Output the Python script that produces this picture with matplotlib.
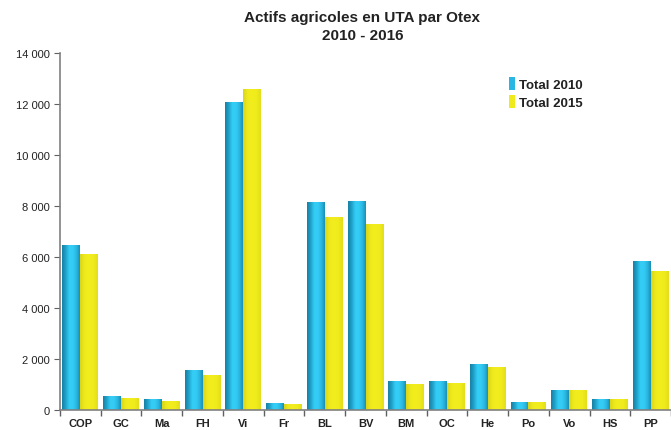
import matplotlib.pyplot as plt
import numpy as np
from matplotlib.colors import LinearSegmentedColormap
from matplotlib.patches import Patch
from matplotlib.ticker import FuncFormatter

plt.rcParams['font.family'] = ['Liberation Sans', 'DejaVu Sans']

otex = ['COP', 'GC', 'Ma', 'FH', 'Vi', 'Fr', 'BL', 'BV', 'BM', 'OC', 'He',
        'Po', 'Vo', 'HS', 'PP']
total_2010 = [6440, 510, 400, 1530, 12050, 240, 8130, 8170, 1100, 1100, 1770,
              310, 750, 400, 5830]
total_2015 = [6080, 470, 350, 1370, 12580, 230, 7540, 7260, 990, 1020, 1650,
              310, 750, 400, 5420]

blue_cmap = LinearSegmentedColormap.from_list(
    'blue', ['#1780a3', '#1f9fc8', '#33ccf5', '#35cdf5', '#2ab8e2', '#1a8fb5'])
yellow_cmap = LinearSegmentedColormap.from_list(
    'yellow', ['#d9d41a', '#eee91c', '#f2ee1e', '#efeb1c', '#e3de1a'])

fig = plt.figure(figsize=(6.71, 4.31), dpi=100)
ax = fig.add_axes([60 / 671, 20 / 431, 611 / 671, 357 / 431])

x = np.arange(len(otex))
w = 0.44
grad = np.linspace(0, 1, 128).reshape(1, -1)


def gradient_bars(xs, values, cmap):
    bars = ax.bar(xs, values, width=w, color='none', linewidth=0)
    for b in bars:
        x0 = b.get_x()
        ax.imshow(grad, extent=(x0, x0 + b.get_width(), 0, b.get_height()),
                  aspect='auto', cmap=cmap, zorder=2, interpolation='bilinear')


gradient_bars(x - w / 2, total_2010, blue_cmap)
gradient_bars(x + w / 2, total_2015, yellow_cmap)

ax.set_xlim(-0.5, len(otex) - 0.5)
ax.set_ylim(0, 14000)
ax.set_yticks(np.arange(0, 14001, 2000))
ax.yaxis.set_major_formatter(FuncFormatter(lambda v, p: f'{int(v):,}'.replace(',', ' ')))

ax.set_xticks(np.arange(-0.5, len(otex), 1.0))
ax.set_xticklabels([])
ax.set_xticks(x, minor=True)
ax.set_xticklabels(otex, minor=True, fontweight='bold', fontsize=8, color='#222222')
ax.tick_params(axis='x', which='minor', length=0, pad=6)
ax.tick_params(axis='x', which='major', length=4, color='#606060', width=1)
ax.tick_params(axis='y', length=4, color='#606060', labelsize=8, labelcolor='#222222')

for s in ['top', 'right']:
    ax.spines[s].set_visible(False)
for s in ['left', 'bottom']:
    ax.spines[s].set_color('#808080')
    ax.spines[s].set_linewidth(1.2)

fig.text(0.54, 0.975, 'Actifs agricoles en UTA par Otex\n2010 - 2016',
         ha='center', va='top', fontsize=11, fontweight='bold',
         color='#222222', linespacing=1.4)

handles = [Patch(facecolor='#29b6e4', edgecolor='none'),
           Patch(facecolor='#efea1c', edgecolor='none')]
leg = ax.legend(handles, ['Total 2010', 'Total 2015'], loc='upper left',
                bbox_to_anchor=(0.715, 0.965), frameon=False, handlelength=0.5,
                handleheight=1.1, handletextpad=0.3, labelspacing=0.3,
                prop={'weight': 'bold', 'size': 9.5})
for t in leg.get_texts():
    t.set_color('#222222')

fig.savefig('out.png', dpi=100)
